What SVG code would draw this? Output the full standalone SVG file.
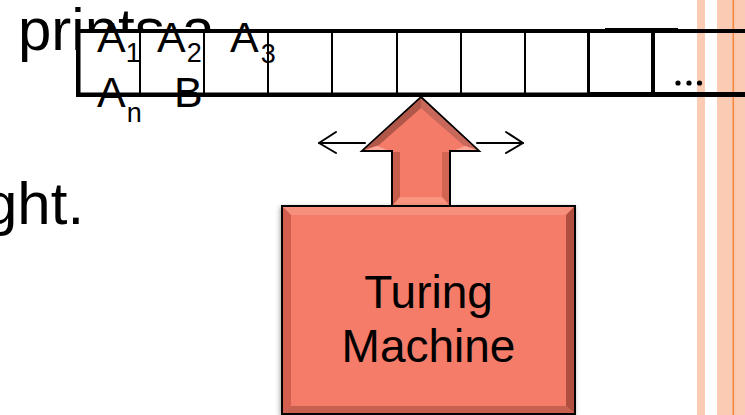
<svg xmlns="http://www.w3.org/2000/svg" width="745" height="415" viewBox="0 0 745 415">
  <style>
    .txt { font-family: "Liberation Sans", Arial, sans-serif; fill: #000; }
    .big { font-size: 60px; }
    .cell { font-size: 43px; }
    .sub { font-size: 27px; }
    .label { font-size: 46px; text-anchor: middle; }
    .rule { fill: #000; }
    .stripe { fill: #FCCBB4; }
    .move { fill: none; stroke: #000; stroke-width: 2; stroke-linecap: round; stroke-linejoin: round; }
    .body { fill: #F47B67; stroke: #000; stroke-width: 2; stroke-linejoin: miter; }
  </style>
  <defs>
    <filter id="shadow" x="-10%" y="-10%" width="120%" height="130%">
      <feDropShadow dx="-1" dy="2" stdDeviation="2.5" flood-color="#000" flood-opacity="0.35"/>
    </filter>
  </defs>

  <rect width="745" height="415" fill="#fff"/>

  <!-- slide text behind the tape -->
  <g id="slide-text">
    <text class="txt big" x="18" y="50">prints a</text>
    <text class="txt big" x="-16" y="224">ght.</text>
  </g>

  <!-- tape -->
  <g id="tape">
    <rect x="76" y="31" width="669" height="64" fill="#fff"/>
    <!-- page border stripes -->
    <rect class="stripe" x="697" y="0" width="8" height="415"/>
    <rect class="stripe" x="717" y="0" width="28" height="415"/>
    <rect x="732.5" y="0" width="1.6" height="415" fill="#F58A3C"/>
    <!-- tape outline -->
    <rect class="rule" x="76" y="29" width="669" height="4"/>
    <rect class="rule" x="605" y="28" width="73" height="5"/>
    <rect class="rule" x="76" y="92.5" width="669" height="4.5"/>
    <rect class="rule" x="589" y="92" width="156" height="5"/>
    <rect class="rule" x="76" y="29" width="4.5" height="68" rx="1"/>
    <!-- cell dividers -->
    <rect class="rule" x="139" y="31" width="2" height="64"/>
    <rect class="rule" x="203" y="31" width="2" height="64"/>
    <rect class="rule" x="267" y="31" width="2" height="64"/>
    <rect class="rule" x="331" y="31" width="2" height="64"/>
    <rect class="rule" x="396" y="31" width="2" height="64"/>
    <rect class="rule" x="460" y="31" width="2" height="64"/>
    <rect class="rule" x="524" y="31" width="2" height="64"/>
    <rect class="rule" x="587" y="31" width="3" height="64"/>
    <rect class="rule" x="651" y="31" width="4" height="64"/>
    <!-- continuation dots -->
    <circle cx="678" cy="83" r="2.6"/>
    <circle cx="689" cy="83" r="2.6"/>
    <circle cx="699.5" cy="83" r="2.6"/>
  </g>

  <!-- symbols on the tape -->
  <g id="symbols">
    <text class="txt cell" x="97" y="52">A<tspan class="sub" dx="0" dy="10">1</tspan></text>
    <text class="txt cell" x="157" y="52">A<tspan class="sub" dx="1" dy="10">2</tspan></text>
    <text class="txt cell" x="230" y="52">A<tspan class="sub" dx="2" dy="11">3</tspan></text>
    <text class="txt cell" x="97" y="107">A<tspan class="sub" dx="1" dy="15">n</tspan></text>
    <text class="txt cell" x="174" y="107">B</text>
  </g>

  <!-- head movement arrows -->
  <g id="connectors">
    <line class="move" x1="365" y1="143" x2="319" y2="143"/>
    <polyline class="move" points="336,132 319,143 336,153"/>
    <line class="move" x1="477" y1="143" x2="523" y2="143"/>
    <polyline class="move" points="506,132 523,143 506,153"/>
  </g>

  <!-- read/write head arrow -->
  <g id="head-arrow">
    <polygon class="body" points="421,97 479,151 450,151 450,206 392,206 392,151 362,151"/>
    <polygon points="421,98.5 364,150 379,145 421,108" fill="#B0574A"/>
    <polygon points="421,98.5 477,150 463,145 421,108" fill="#C8685A"/>
    <polygon points="465,146 477,150 455,150" fill="#FBA797"/>
    <polygon points="377,146 365,150 388,150" fill="#FBA797"/>
    <polygon points="393,152 400,152 400,197 393,205" fill="#C55C4C"/>
    <polygon points="449,152 442,152 442,197 449,205" fill="#D26452"/>
    <polygon points="393,205 400,197 442,197 449,205" fill="#F9957F"/>
  </g>

  <!-- machine body -->
  <g id="machine">
    <rect class="body" x="282" y="206" width="293" height="208" filter="url(#shadow)"/>
    <polygon points="283,207 574,207 566,215 291,215" fill="#F6907C"/>
    <polygon points="283,207 291,215 291,406 283,413" fill="#D25F4E"/>
    <polygon points="574,207 574,413 566,406 566,215" fill="#B04F40"/>
    <polygon points="283,413 291,406 566,406 574,413" fill="#C8604F"/>
    <text class="txt label" x="428.5" y="308">Turing</text>
    <text class="txt label" x="428.5" y="362">Machine</text>
  </g>
</svg>
